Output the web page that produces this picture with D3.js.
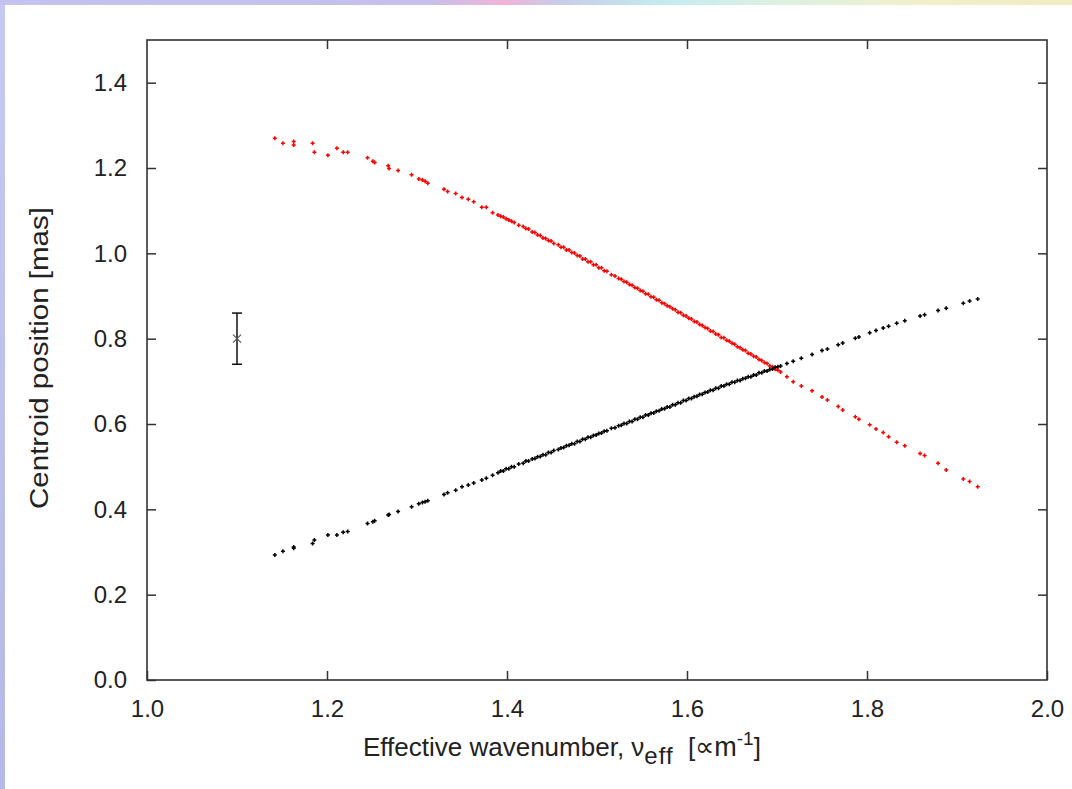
<!DOCTYPE html>
<html>
  <head>
    <meta charset="utf-8">
    <title>Centroid position</title>
    <script src="https://cdn.jsdelivr.net/npm/d3@7"></script>
    <style>
      body { margin: 0; background: #fff; }
      svg { display: block; font-family: "Liberation Sans", Arial, sans-serif; }
      .tick text { font-size: 24px; fill: #222; }
      .label { font-size: 26px; fill: #222; }
    </style>
  </head>

  <body>
    <div id="container"></div>

    <script>
      // data (shared sampling in wavenumber, one position per source)
      xValues = [
        1.142, 1.151, 1.163, 1.163, 1.184, 1.186, 1.201, 1.211, 1.218, 1.223,
        1.245, 1.251, 1.253, 1.268, 1.269, 1.279, 1.294, 1.302, 1.306, 1.309,
        1.312, 1.330, 1.334, 1.343, 1.350, 1.357, 1.363, 1.372, 1.377, 1.384,
        1.390, 1.393, 1.396, 1.399, 1.402, 1.405, 1.408, 1.413, 1.418, 1.421,
        1.424, 1.428, 1.431, 1.434, 1.437, 1.440, 1.443, 1.446, 1.449, 1.452,
        1.457, 1.460, 1.463, 1.466, 1.469, 1.472, 1.475, 1.478, 1.481, 1.484,
        1.487, 1.490, 1.493, 1.496, 1.499, 1.502, 1.505, 1.508, 1.511, 1.516,
        1.520, 1.524, 1.527, 1.530, 1.533, 1.536, 1.539, 1.542, 1.545, 1.548,
        1.551, 1.554, 1.557, 1.560, 1.563, 1.566, 1.569, 1.572, 1.575, 1.578,
        1.581, 1.584, 1.587, 1.590, 1.593, 1.596, 1.599, 1.602, 1.605, 1.608,
        1.611, 1.614, 1.617, 1.620, 1.623, 1.626, 1.629, 1.632, 1.635, 1.638,
        1.641, 1.644, 1.647, 1.650, 1.653, 1.656, 1.659, 1.662, 1.665, 1.668,
        1.671, 1.674, 1.677, 1.680, 1.683, 1.686, 1.689, 1.692, 1.695, 1.698,
        1.701, 1.704, 1.711, 1.718, 1.727, 1.739, 1.750, 1.756, 1.768, 1.773,
        1.787, 1.791, 1.803, 1.810, 1.818, 1.824, 1.833, 1.842, 1.859, 1.864,
        1.879, 1.888, 1.907, 1.914, 1.923
      ];

      redValues = [
        1.270, 1.258, 1.262, 1.254, 1.258, 1.237, 1.230, 1.246, 1.237, 1.237,
        1.224, 1.216, 1.213, 1.205, 1.199, 1.194, 1.184, 1.174, 1.172, 1.169,
        1.164, 1.150, 1.145, 1.140, 1.131, 1.127, 1.121, 1.108, 1.108, 1.095,
        1.090, 1.087, 1.085, 1.081, 1.078, 1.075, 1.072, 1.066, 1.063, 1.058,
        1.057, 1.050, 1.049, 1.043, 1.042, 1.036, 1.035, 1.030, 1.029, 1.023,
        1.020, 1.014, 1.014, 1.008, 1.008, 1.002, 1.001, 0.995, 0.994, 0.987,
        0.987, 0.980, 0.980, 0.973, 0.973, 0.966, 0.966, 0.959, 0.958, 0.950,
        0.947, 0.941, 0.939, 0.934, 0.932, 0.927, 0.925, 0.920, 0.918, 0.913,
        0.911, 0.905, 0.904, 0.898, 0.897, 0.891, 0.890, 0.884, 0.882, 0.877,
        0.875, 0.870, 0.868, 0.862, 0.861, 0.855, 0.853, 0.848, 0.846, 0.840,
        0.839, 0.833, 0.831, 0.826, 0.824, 0.818, 0.817, 0.811, 0.809, 0.803,
        0.802, 0.796, 0.794, 0.789, 0.787, 0.781, 0.779, 0.774, 0.772, 0.766,
        0.764, 0.759, 0.757, 0.751, 0.749, 0.744, 0.742, 0.736, 0.734, 0.729,
        0.726, 0.722, 0.711, 0.699, 0.689, 0.678, 0.663, 0.656, 0.641, 0.633,
        0.617, 0.611, 0.598, 0.588, 0.580, 0.570, 0.557, 0.549, 0.531, 0.526,
        0.508, 0.492, 0.471, 0.465, 0.453
      ];

      blackValues = [
        0.293, 0.302, 0.309, 0.312, 0.320, 0.328, 0.340, 0.340, 0.346, 0.348,
        0.367, 0.371, 0.373, 0.387, 0.388, 0.395, 0.406, 0.413, 0.416, 0.418,
        0.420, 0.435, 0.439, 0.445, 0.453, 0.457, 0.462, 0.469, 0.473, 0.480,
        0.486, 0.490, 0.490, 0.495, 0.495, 0.500, 0.500, 0.506, 0.508, 0.513,
        0.513, 0.518, 0.519, 0.523, 0.524, 0.528, 0.528, 0.533, 0.533, 0.538,
        0.540, 0.544, 0.545, 0.549, 0.550, 0.554, 0.554, 0.559, 0.559, 0.564,
        0.564, 0.569, 0.569, 0.573, 0.574, 0.578, 0.579, 0.583, 0.584, 0.590,
        0.591, 0.596, 0.597, 0.601, 0.601, 0.606, 0.606, 0.611, 0.611, 0.616,
        0.616, 0.621, 0.621, 0.625, 0.626, 0.630, 0.631, 0.635, 0.636, 0.640,
        0.640, 0.645, 0.645, 0.650, 0.650, 0.655, 0.655, 0.660, 0.660, 0.664,
        0.665, 0.669, 0.670, 0.674, 0.675, 0.679, 0.679, 0.684, 0.684, 0.689,
        0.689, 0.693, 0.693, 0.698, 0.698, 0.702, 0.702, 0.706, 0.707, 0.711,
        0.711, 0.715, 0.715, 0.720, 0.720, 0.724, 0.724, 0.728, 0.729, 0.733,
        0.734, 0.736, 0.742, 0.747, 0.754, 0.763, 0.772, 0.776, 0.786, 0.790,
        0.801, 0.804, 0.814, 0.819, 0.825, 0.829, 0.836, 0.842, 0.853, 0.856,
        0.866, 0.871, 0.883, 0.888, 0.893
      ];

      // typical error bar
      errorPoint = {x: 1.1, y: 0.8, low: 0.74, high: 0.86};

      xTicks = [1.0, 1.2, 1.4, 1.6, 1.8, 2.0];
      yTicks = [0.0, 0.2, 0.4, 0.6, 0.8, 1.0, 1.2, 1.4];

      width = 1072;
      height = 789;
      margin = {top: 40, right: 25, bottom: 109, left: 147};
      tickLength = 9;

      svg = d3.select("#container").append("svg")
        .attr("width", width)
        .attr("height", height);

      // page border strips
      defs = svg.append("defs");
      grad = defs.append("linearGradient").attr("id", "topStrip");
      [["0%", "#c4c2f0"], ["40%", "#c6c0ea"], ["47%", "#f0b4d8"], ["52%", "#c8cce8"],
       ["62%", "#c4ecf0"], ["72%", "#dcf0e4"], ["85%", "#f0f0cc"], ["100%", "#f0ecc4"]]
        .forEach(s => grad.append("stop").attr("offset", s[0]).attr("stop-color", s[1]));
      leftGrad = defs.append("linearGradient").attr("id", "leftStrip")
        .attr("x1", 0).attr("y1", 0).attr("x2", 0).attr("y2", 1);
      leftGrad.append("stop").attr("offset", "0%").attr("stop-color", "#c8c8f4");
      leftGrad.append("stop").attr("offset", "100%").attr("stop-color", "#b8b8e6");

      svg.append("rect").attr("x", 0).attr("y", 0).attr("width", 5).attr("height", height)
        .style("fill", "url(#leftStrip)");
      svg.append("rect").attr("x", 0).attr("y", 0).attr("width", width).attr("height", 5)
        .style("fill", "url(#topStrip)");

      xScale = d3.scaleLinear()
        .domain([1.0, 2.0])
        .range([margin.left, width - margin.right]);
      yScale = d3.scaleLinear()
        .domain([0, 1.5])
        .range([height - margin.bottom, margin.top]);

      // axes, ticks mirrored on all four sides pointing inwards
      svg.append("g")
        .attr("transform", "translate(0," + yScale(0) + ")")
        .call(d3.axisBottom(xScale)
          .tickValues(xTicks)
          .tickFormat(d3.format(".1f"))
          .tickSizeInner(-tickLength)
          .tickSizeOuter(0)
          .tickPadding(20))
        .call(g => g.select(".domain").remove());
      svg.append("g")
        .attr("transform", "translate(0," + yScale(1.5) + ")")
        .call(d3.axisTop(xScale)
          .tickValues(xTicks.slice(1, -1))
          .tickFormat("")
          .tickSizeInner(-tickLength)
          .tickSizeOuter(0))
        .call(g => g.select(".domain").remove());
      svg.append("g")
        .attr("transform", "translate(" + xScale(1.0) + ",0)")
        .call(d3.axisLeft(yScale)
          .tickValues(yTicks)
          .tickFormat(d3.format(".1f"))
          .tickSizeInner(-tickLength)
          .tickSizeOuter(0)
          .tickPadding(20))
        .call(g => g.select(".domain").remove());
      svg.append("g")
        .attr("transform", "translate(" + xScale(2.0) + ",0)")
        .call(d3.axisRight(yScale)
          .tickValues(yTicks.slice(1))
          .tickFormat("")
          .tickSizeInner(-tickLength)
          .tickSizeOuter(0))
        .call(g => g.select(".domain").remove());

      svg.selectAll(".tick line")
        .style("stroke", "#333")
        .style("stroke-width", 1.5);
      svg.selectAll(".tick text")
        .attr("font-family", null)
        .attr("font-size", null);

      // frame
      svg.append("rect")
        .attr("x", xScale(1.0))
        .attr("y", yScale(1.5))
        .attr("width", xScale(2.0) - xScale(1.0))
        .attr("height", yScale(0) - yScale(1.5))
        .style("fill", "none")
        .style("stroke", "#333")
        .style("stroke-width", 1.6);

      // points
      plus = d => "M" + (xScale(d.x) - 2) + "," + yScale(d.y) + "h4M" + xScale(d.x) + "," + (yScale(d.y) - 2) + "v4";

      series = [
        {colour: "#ff0000", values: redValues},
        {colour: "#000000", values: blackValues}
      ];
      series.forEach(s => {
        svg.append("g")
          .selectAll("path")
            .data(xValues.map((x, i) => ({x: x, y: s.values[i]})))
          .enter().append("path")
            .attr("d", plus)
            .style("stroke", s.colour)
            .style("stroke-width", 1.5)
            .style("fill", "none");
      });

      // error bar
      eb = svg.append("g").style("stroke", "#111").style("stroke-width", 1.5);
      ex = xScale(errorPoint.x);
      eb.append("line")
        .attr("x1", ex).attr("x2", ex)
        .attr("y1", yScale(errorPoint.low)).attr("y2", yScale(errorPoint.high));
      [errorPoint.low, errorPoint.high].forEach(v => {
        eb.append("line")
          .attr("x1", ex - 5).attr("x2", ex + 5)
          .attr("y1", yScale(v)).attr("y2", yScale(v));
      });
      ey = yScale(errorPoint.y);
      eb.append("path")
        .attr("d", "M" + (ex - 4) + "," + (ey - 4) + "l8,8M" + (ex - 4) + "," + (ey + 4) + "l8,-8")
        .style("stroke", "#555")
        .style("stroke-width", 1.2);

      // axis labels
      xLabel = svg.append("text")
        .classed("label", true)
        .attr("x", 363)
        .attr("y", 756);
      xLabel.append("tspan").text("Effective wavenumber, ν");
      xLabel.append("tspan").attr("dy", 8).style("font-size", "24px").style("letter-spacing", "1px").text("eff");
      xLabel.append("tspan").attr("dy", -8).text("\u00a0\u00a0[");
      xLabel.append("tspan").style("font-size", "27px").text("∝m");
      xLabel.append("tspan").attr("dy", -11).style("font-size", "19px").text("-1");
      xLabel.append("tspan").attr("dy", 11).text("]");

      svg.append("text")
        .classed("label", true)
        .attr("transform", "translate(48," + 358 + ") rotate(-90)")
        .attr("text-anchor", "middle")
        .attr("textLength", 302)
        .attr("lengthAdjust", "spacingAndGlyphs")
        .text("Centroid position [mas]");
    </script>
  </body>
</html>
